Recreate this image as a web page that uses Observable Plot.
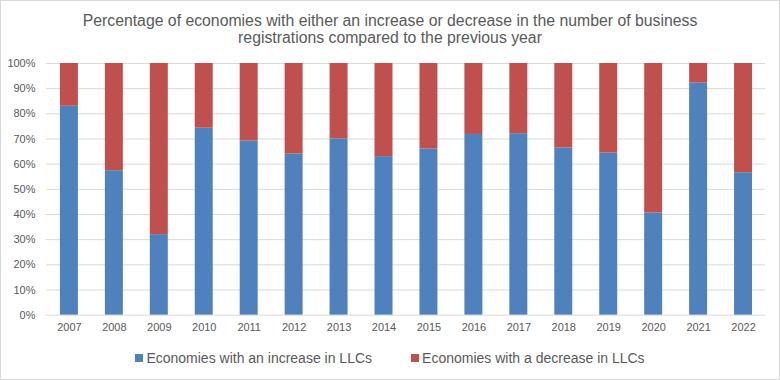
<!DOCTYPE html>
<html>
<head>
<meta charset="utf-8">
<script src="https://cdn.jsdelivr.net/npm/d3@7"></script>
<script src="https://cdn.jsdelivr.net/npm/@observablehq/plot@0.6"></script>
<style>
  html, body { margin: 0; padding: 0; background: #fff; }
  #frame { position: relative; width: 778px; height: 378px; border: 1px solid #d9d9d9; background: #fff; overflow: hidden; font-family: "Liberation Sans", Arial, sans-serif; color: #595959; }
  #title { position: absolute; left: 0; top: 11px; width: 778px; text-align: center; font-size: 15.8px; line-height: 17px; color: #595959; }
  #chart { position: absolute; left: -1px; top: 51px; }
  #legend { position: absolute; left: 0; top: 349px; width: 778px; display: flex; justify-content: center; gap: 39px; font-size: 14px; line-height: 16px; color: #595959; }
  .item { display: flex; align-items: center; gap: 3px; }
  .sw { width: 8px; height: 8px; display: inline-block; }
</style>
</head>
<body>
<div id="frame">
  <div id="title">Percentage of economies with either an increase or decrease in the number of business<br>registrations compared to the previous year</div>
  <div id="chart"></div>
  <div id="legend"></div>
</div>
<script>
const years = ["2007","2008","2009","2010","2011","2012","2013","2014","2015","2016","2017","2018","2019","2020","2021","2022"];
const increase = [83, 57.4, 32, 74.3, 69.2, 64, 70, 63, 66, 71.8, 72.1, 66.4, 64.4, 40.6, 92.2, 56.6];
const decrease = [17, 42.6, 68, 25.7, 30.8, 36, 30, 37, 34, 28.2, 27.9, 33.6, 35.6, 59.4, 7.8, 43.4];
const seriesNames = ["Economies with an increase in LLCs", "Economies with a decrease in LLCs"];
const seriesColors = ["#4f81bd", "#c0504d"];
const yTicks = [0, 10, 20, 30, 40, 50, 60, 70, 80, 90, 100];

const rows = [];
years.forEach((y, i) => {
  rows.push({year: y, series: seriesNames[0], value: increase[i]});
  rows.push({year: y, series: seriesNames[1], value: decrease[i]});
});

const chart = Plot.plot({
  width: 780,
  height: 288,
  marginTop: 11,
  marginBottom: 25,
  marginLeft: 46,
  marginRight: 14,
  style: {fontFamily: "'Liberation Sans', Arial, sans-serif", fontSize: "11px", color: "#595959", background: "#fff"},
  x: {domain: years, paddingInner: 0.6, paddingOuter: 0.3, label: null, tickSize: 0, tickPadding: 8},
  y: {domain: [0, 100], ticks: yTicks, tickFormat: d => d + "%", label: null, tickSize: 0, tickPadding: 11},
  color: {domain: seriesNames, range: seriesColors},
  marks: [
    Plot.ruleY(yTicks, {stroke: "#d9d9d9", strokeWidth: 1}),
    Plot.barY(rows, Plot.stackY({order: seriesNames, x: "year", y: "value", fill: "series"}))
  ]
});
document.getElementById("chart").appendChild(chart);

const legend = document.getElementById("legend");
seriesNames.forEach((n, i) => {
  const it = document.createElement("div");
  it.className = "item";
  const sw = document.createElement("span");
  sw.className = "sw";
  sw.style.background = seriesColors[i];
  const t = document.createElement("span");
  t.textContent = n;
  it.appendChild(sw);
  it.appendChild(t);
  legend.appendChild(it);
});
</script>
</body>
</html>
